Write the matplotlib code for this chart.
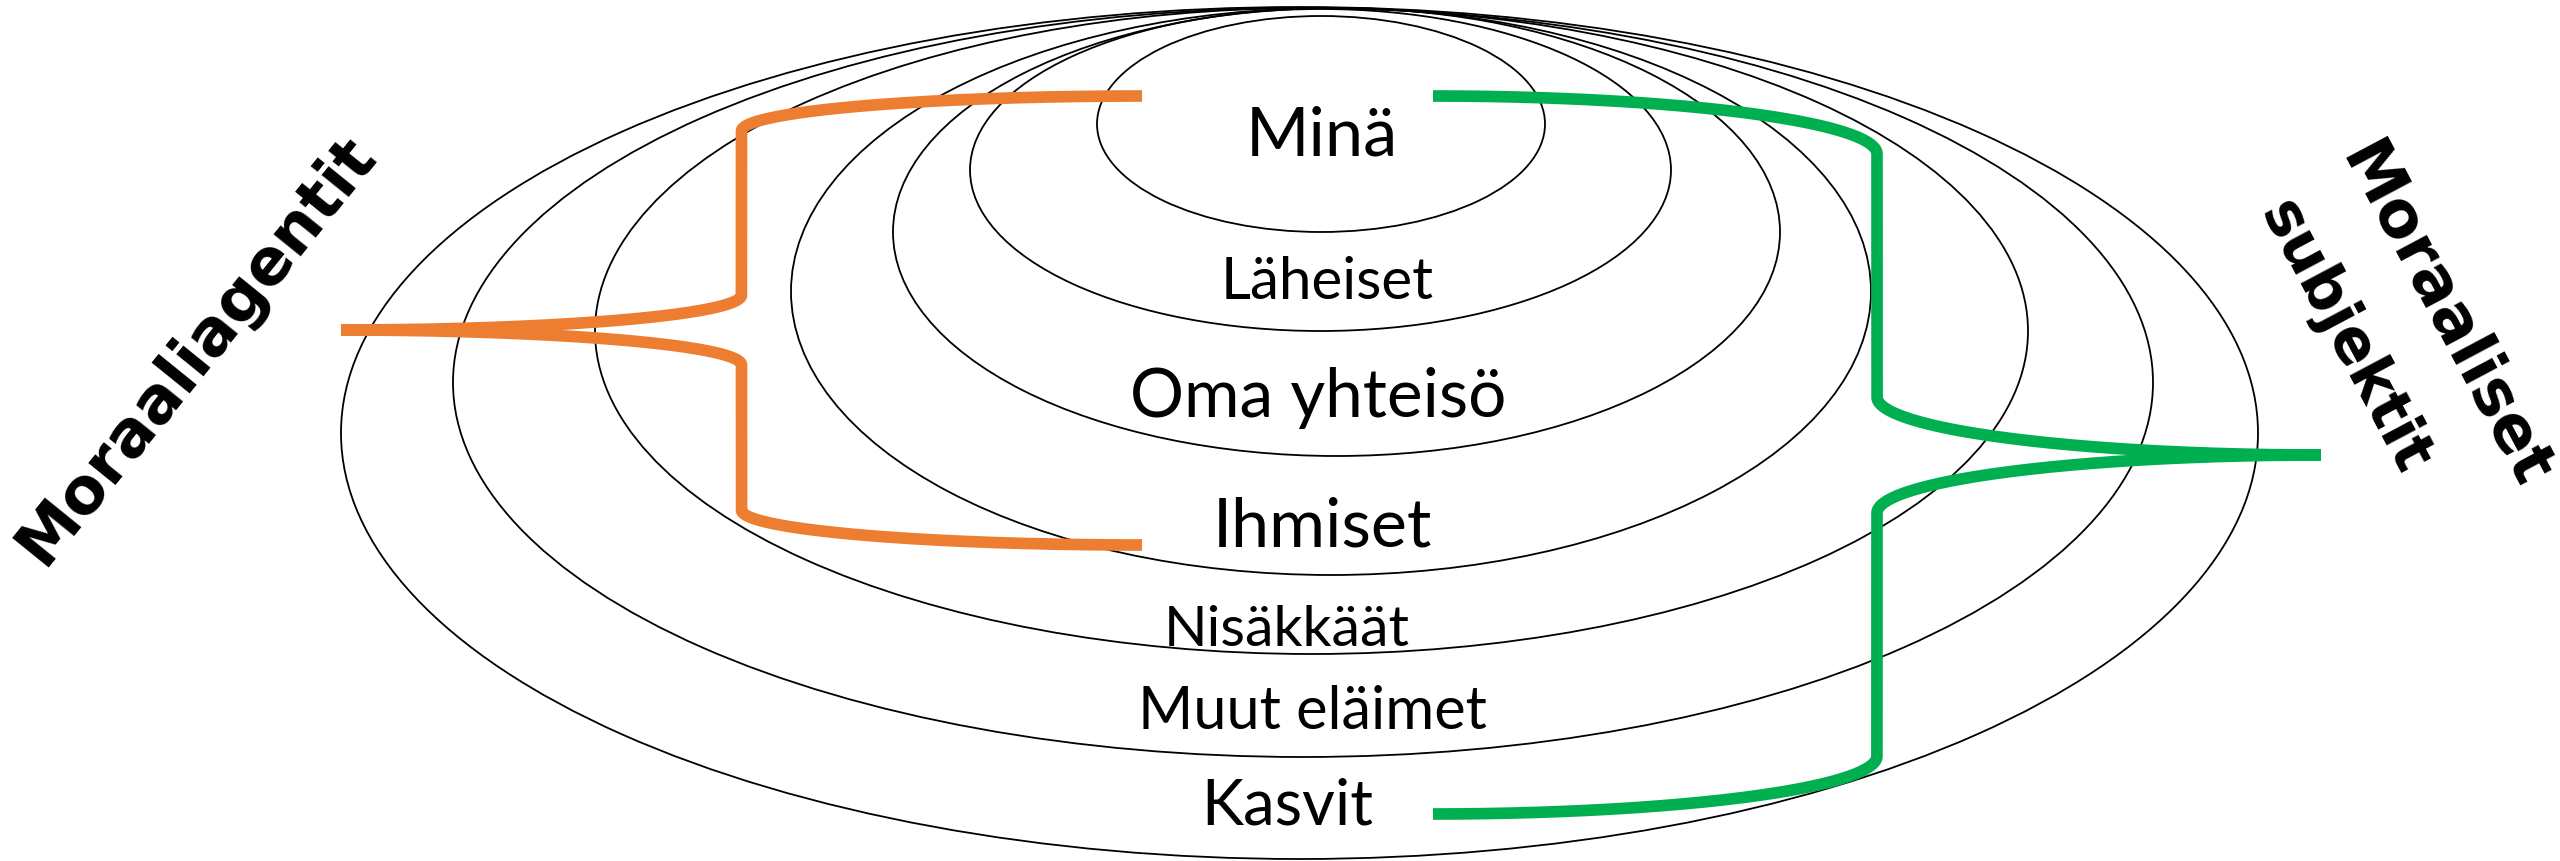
import matplotlib
matplotlib.use("Agg")
import matplotlib.pyplot as plt
import numpy as np
from matplotlib.patches import Ellipse

W, H, DPI = 2560, 862, 100

# ---- data: nested circles of moral consideration (inner -> outer) ----
ring_labels = ["Minä", "Läheiset", "Oma yhteisö", "Ihmiset", "Nisäkkäät", "Muut eläimet", "Kasvit"]
ring_left = [1097, 970, 893, 791, 595, 453, 341]
ring_right = [1545, 1671, 1780, 1871, 2028, 2153, 2258]
ring_top = [17, 10, 9, 9, 9, 9, 8]
ring_bottom = [233, 332, 457, 576, 655, 758, 860]

label_x = [1322, 1327, 1318, 1322, 1287, 1312, 1287]
label_baseline = [155, 299, 417, 547, 646, 729, 825]
label_width = [152, 213, 376, 219, 246, 349, 172]

title_texts = ["Moraaliagentit", "Moraaliset", "subjektit"]
title_center = [(196, 350), (2444, 316), (2344, 338)]
title_angle = [51, -62, -62]
title_length = [530, 380, 300]

ORANGE = "#ED7D31"
GREEN = "#00B050"

fig = plt.figure(figsize=(W / DPI, H / DPI), dpi=DPI)
ax = fig.add_axes([0, 0, 1, 1])
ax.set_xlim(0, W)
ax.set_ylim(H, 0)
ax.axis("off")

# ellipses
for l, r, t, b in zip(ring_left, ring_right, ring_top, ring_bottom):
    e = Ellipse(((l + r) / 2, (t + b) / 2), r - l, b - t, fill=False,
                edgecolor="black", linewidth=1.3, zorder=2)
    ax.add_patch(e)


def brace(x_arm, x_tip, y_top, y_tip, y_bot, ry, color, n=80):
    xm = (x_arm + x_tip) / 2
    t = np.linspace(0, np.pi / 2, n)
    x1 = x_arm + (xm - x_arm) * np.sin(t)
    y1 = y_top + ry * (1 - np.cos(t))
    x2 = xm + (x_tip - xm) * (1 - np.cos(t))
    y2 = y_tip - ry + ry * np.sin(t)
    xu = np.concatenate([x1, x2])
    yu = np.concatenate([y1, y2])
    x3 = x_tip + (xm - x_tip) * np.sin(t)
    y3 = y_tip + ry * (1 - np.cos(t))
    x4 = xm + (x_arm - xm) * (1 - np.cos(t))
    y4 = y_bot - ry + ry * np.sin(t)
    xl = np.concatenate([x3, x4])
    yl = np.concatenate([y3, y4])
    for xx, yy in ((xu, yu), (xl, yl)):
        ax.plot(xx, yy, color=color, linewidth=8.4, solid_capstyle="butt",
                solid_joinstyle="round", zorder=4)


brace(1142, 341, 97, 331, 546, 35, ORANGE)
brace(1433, 2321, 97, 456, 815, 58, GREEN)

# ring labels
texts = []
for lab, x, y in zip(ring_labels, label_x, label_baseline):
    texts.append(ax.text(x, y, lab, ha="center", va="baseline", fontsize=50,
                         family=["Lato", "DejaVu Sans"], color="black", zorder=5))

# side titles (created unrotated, sized, then rotated)
titles = []
for s, (cx, cy) in zip(title_texts, title_center):
    titles.append(ax.text(cx, cy, s, rotation=0, rotation_mode="anchor",
                          ha="center", va="center", fontsize=44,
                          fontweight="bold", family="DejaVu Sans",
                          color="black", zorder=5))

fig.canvas.draw()
rend = fig.canvas.get_renderer()
for txt, wt in zip(texts, label_width):
    bb = txt.get_window_extent(rend)
    txt.set_fontsize(txt.get_fontsize() * wt / bb.width)
for txt, L, ang in zip(titles, title_length, title_angle):
    bb = txt.get_window_extent(rend)
    txt.set_fontsize(txt.get_fontsize() * L / bb.width)
    txt.set_rotation(ang)

fig.savefig("out.png", dpi=DPI, facecolor="white")
